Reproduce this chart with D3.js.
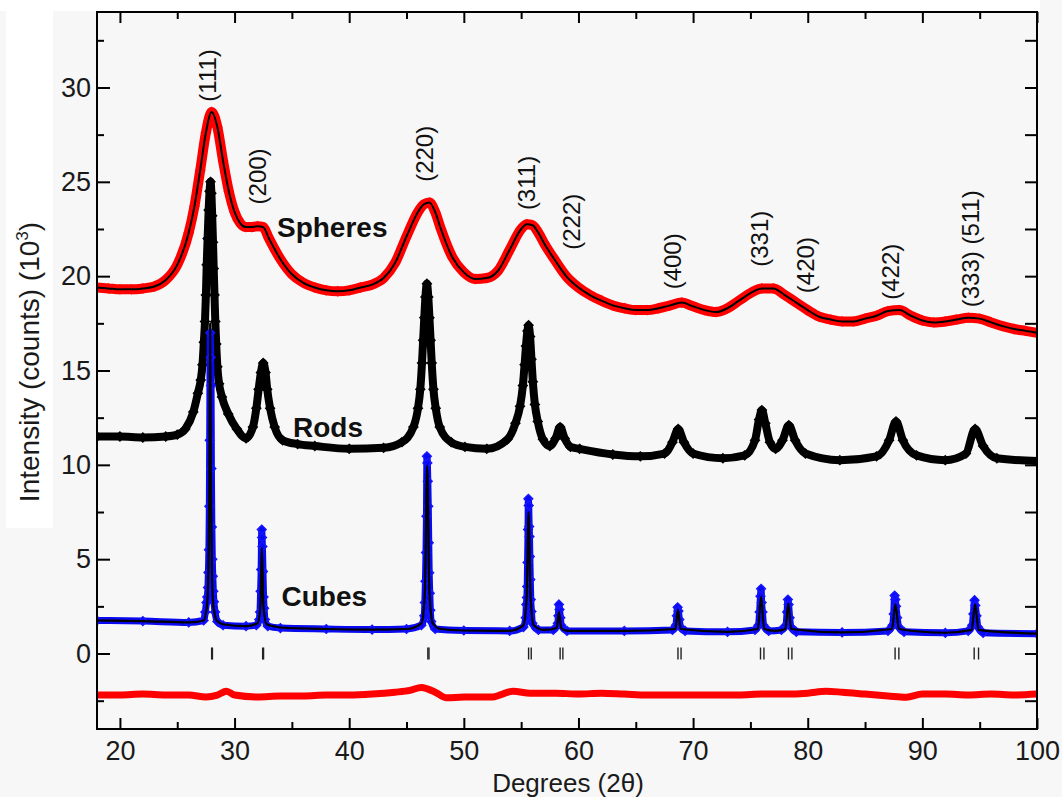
<!DOCTYPE html>
<html>
<head>
<meta charset="utf-8">
<script src="https://cdn.jsdelivr.net/npm/d3@7"></script>
<style>
  html, body { margin: 0; padding: 0; background: #f7f7f7; }
  svg { display: block; font-family: "Liberation Sans", Arial, Helvetica, sans-serif; }
</style>
</head>
<body>
<svg id="chart" width="1062" height="797"></svg>
<script>
// ---- Powder XRD patterns: [2θ (deg), intensity (10^3 counts)] ----

// Spheres: broad reflections (observed and fitted profile)
const spheres = [[18,19.4],[19,19.35],[20,19.3],[21,19.3],[22,19.35],[23,19.45],[24,19.8],[25,20.6],[26,22.3],[26.5,23.7],[27,25.6],[27.5,27.6],[28,28.7],[28.5,27.9],[29,26.1],[29.5,24.5],[30,23.4],[30.5,22.8],[31,22.6],[31.5,22.6],[32,22.65],[32.5,22.6],[33,22.0],[34,20.9],[35,20.1],[36,19.65],[37,19.4],[38,19.25],[39,19.2],[40,19.25],[41,19.4],[42,19.55],[43,19.9],[44,20.7],[45,22.1],[46,23.4],[46.5,23.8],[47,23.9],[47.5,23.4],[48,22.5],[49,21.0],[50,20.2],[51,19.85],[52,19.9],[53,20.3],[54,21.4],[55,22.5],[55.5,22.75],[56,22.7],[56.5,22.3],[57,21.75],[58,20.8],[59,19.95],[60,19.4],[61,19.0],[62,18.7],[63,18.45],[64,18.3],[65,18.2],[66,18.2],[67,18.3],[68,18.45],[69,18.6],[70,18.4],[71,18.2],[72,18.1],[73,18.3],[74,18.7],[75,19.1],[76,19.35],[77,19.35],[78,19.0],[79,18.6],[80,18.2],[81,17.85],[82,17.7],[83,17.6],[84,17.6],[85,17.75],[86,17.9],[87,18.15],[88,18.2],[89,17.9],[90,17.65],[91,17.55],[92,17.6],[93,17.7],[94,17.8],[95,17.75],[96,17.55],[97,17.35],[98,17.2],[99,17.1],[100,17.0]];

// Rods: intermediate peak widths
const rods = [[18,11.5],[20,11.5],[22,11.45],[24,11.5],[25,11.6],[25.7,11.9],[26.4,12.8],[26.8,13.8],[27.05,14.5],[27.2,15.3],[27.32,16.5],[27.42,17.6],[27.5,19.0],[27.57,20.6],[27.65,22.0],[27.74,23.5],[27.82,24.5],[27.9,25.0],[27.98,24.4],[28.05,23.2],[28.12,21.8],[28.18,20.4],[28.25,19.0],[28.32,17.6],[28.4,16.4],[28.5,15.2],[28.65,14.3],[28.9,13.6],[29.45,12.7],[30.2,11.9],[31.0,11.4],[31.6,12.0],[31.9,13.0],[32.1,14.0],[32.3,14.9],[32.5,15.4],[32.7,14.9],[32.85,14.0],[33.1,13.0],[33.5,12.0],[34.2,11.3],[35.5,11.1],[37,11.0],[40,10.85],[43,10.9],[44.6,11.2],[45.6,12.0],[46.0,13.0],[46.2,14.0],[46.35,15.4],[46.45,16.6],[46.55,17.8],[46.65,18.9],[46.78,19.6],[46.9,18.9],[47.0,17.8],[47.1,16.6],[47.2,15.4],[47.35,14.0],[47.55,13.0],[47.9,12.0],[48.9,11.2],[50.1,10.95],[52,10.85],[53.8,11.35],[54.5,12.2],[54.9,13.1],[55.15,14.2],[55.3,15.3],[55.42,16.3],[55.55,17.1],[55.65,17.4],[55.78,16.8],[55.9,15.6],[56.02,14.4],[56.2,13.2],[56.45,12.3],[56.9,11.35],[57.5,11.0],[58.0,11.4],[58.4,12.0],[58.8,11.4],[59.3,10.95],[60.1,10.85],[63,10.55],[65.4,10.45],[67.5,10.6],[68.2,11.2],[68.7,11.9],[69.2,11.2],[70,10.6],[72.6,10.35],[74.5,10.5],[75.4,11.3],[75.75,12.4],[76.0,12.9],[76.3,12.2],[76.7,11.2],[77.2,10.85],[77.8,11.3],[78.35,12.1],[78.9,11.3],[79.8,10.6],[82.8,10.25],[86,10.45],[87.1,11.3],[87.7,12.3],[88.3,11.3],[89.5,10.5],[92,10.25],[93.8,10.6],[94.6,11.9],[95.3,11.0],[96.5,10.35],[100,10.2]];

// Cubes: observed points
const cubesObs = [[18,1.75],[22,1.72],[26,1.65],[27.3,1.75],[27.45,2.2],[27.55,2.7],[27.62,3.0],[27.68,3.5],[27.72,4.3],[27.76,5.5],[27.8,7.8],[27.83,11.3],[27.88,17.0],[27.92,15.7],[27.95,14.2],[27.98,9.8],[28.02,6.7],[28.06,5.0],[28.1,4.1],[28.15,3.3],[28.2,2.75],[28.3,2.2],[28.5,1.7],[29,1.5],[31,1.45],[31.9,1.5],[32.15,1.8],[32.22,2.2],[32.27,3.3],[32.32,4.45],[32.37,6.57],[32.4,6.15],[32.43,5.67],[32.48,4.35],[32.53,3.0],[32.58,2.4],[32.65,1.8],[32.9,1.45],[34,1.35],[38,1.3],[42,1.27],[45,1.3],[46.3,1.5],[46.55,2.0],[46.6,2.7],[46.65,3.83],[46.7,5.35],[46.74,7.28],[46.78,10.45],[46.82,10.1],[46.86,9.13],[46.9,7.8],[46.94,5.87],[46.98,4.28],[47.03,3.2],[47.08,2.3],[47.15,1.7],[47.5,1.3],[50,1.22],[54,1.2],[55.2,1.4],[55.4,1.9],[55.45,2.6],[55.5,2.97],[55.53,3.55],[55.56,4.82],[55.6,6.57],[55.63,8.2],[55.66,7.84],[55.7,6.73],[55.73,6.2],[55.76,5.14],[55.8,3.92],[55.84,2.86],[55.9,2.23],[55.98,1.6],[56.5,1.25],[57.8,1.25],[58.2,1.6],[58.25,2.0],[58.3,2.6],[58.35,2.33],[58.42,1.9],[58.5,1.5],[59,1.2],[64,1.2],[68.2,1.25],[68.5,1.5],[68.58,2.0],[68.65,2.45],[68.72,2.25],[68.8,1.8],[68.9,1.4],[69.3,1.2],[73,1.15],[75.4,1.25],[75.7,1.5],[75.8,2.2],[75.88,3.04],[75.93,3.43],[75.98,2.7],[76.05,2.2],[76.15,1.5],[76.6,1.2],[77.7,1.25],[78.1,1.5],[78.2,2.2],[78.27,2.86],[78.33,2.6],[78.42,1.9],[78.55,1.4],[79,1.15],[83,1.12],[87,1.2],[87.4,1.5],[87.5,2.1],[87.58,3.07],[87.64,2.86],[87.7,2.5],[87.8,1.9],[87.95,1.4],[88.4,1.15],[92,1.1],[94,1.2],[94.35,1.5],[94.45,2.1],[94.55,2.83],[94.62,2.55],[94.72,2.0],[94.85,1.4],[95.3,1.1],[100,1.05]];

// Cubes: calculated (refined) profile
const cubesCalc = [[18,1.75],[22,1.72],[26,1.65],[27.3,1.75],[27.6,2.6],[27.72,4.5],[27.8,9.0],[27.87,17.5],[27.94,9.0],[28.02,4.5],[28.14,2.6],[28.45,1.75],[29,1.55],[31,1.45],[32.0,1.6],[32.25,2.5],[32.38,5.6],[32.52,2.5],[32.8,1.55],[34,1.38],[38,1.3],[42,1.27],[45,1.3],[46.3,1.6],[46.6,3.2],[46.8,9.95],[47.0,3.2],[47.3,1.6],[48,1.3],[50,1.22],[54,1.2],[55.2,1.5],[55.48,3.0],[55.65,7.5],[55.82,3.0],[56.1,1.5],[57,1.25],[58.1,1.35],[58.3,2.2],[58.5,1.35],[59,1.2],[64,1.2],[68.45,1.3],[68.68,2.33],[68.9,1.3],[73,1.15],[75.65,1.3],[75.93,3.0],[76.2,1.3],[77.2,1.2],[78.05,1.3],[78.3,2.65],[78.55,1.3],[83,1.12],[87.35,1.3],[87.65,2.6],[87.95,1.3],[92,1.1],[94.3,1.25],[94.6,2.6],[94.9,1.25],[100,1.05]];

// Difference curve (observed - calculated), offset below zero
const difference = [[18,-2.2],[20,-2.2],[22,-2.15],[24,-2.2],[26,-2.2],[27.5,-2.3],[28.5,-2.2],[29.3,-2.0],[30,-2.2],[32,-2.3],[34,-2.25],[36,-2.25],[38,-2.2],[40,-2.2],[42,-2.15],[44,-2.05],[45.3,-1.95],[46.3,-1.8],[47.5,-2.05],[48.5,-2.35],[50,-2.3],[52.5,-2.3],[54.3,-2.0],[55.8,-2.1],[58,-2.1],[60,-2.15],[62,-2.1],[64,-2.15],[66,-2.2],[68,-2.2],[70,-2.2],[72,-2.2],[74,-2.2],[76,-2.15],[78,-2.15],[80,-2.1],[81.6,-2.0],[83,-2.05],[85,-2.15],[87,-2.25],[88.6,-2.32],[90,-2.15],[92,-2.15],[94,-2.2],[96,-2.15],[98,-2.2],[100,-2.15]];

// Bragg reflection positions (Kα1 / Kα2 pairs)
const braggPositions = [28.0, 28.07, 32.45, 32.53, 46.86, 46.96, 55.65, 55.88, 58.4, 58.64, 68.68, 68.95, 75.88, 76.18, 78.32, 78.62, 87.62, 87.95, 94.52, 94.9];

// Miller-index annotations: text, 2θ of label, intensity at label foot
const hklText = ["(111)", "(200)", "(220)", "(311)", "(222)", "(400)", "(331)", "(420)", "(422)", "(333) (511)"];
const hklPos  = [27.64, 32.04, 46.6, 55.5, 59.4, 68.2, 75.8, 79.8, 87.2, 94.2];
const hklFoot = [29.25, 23.8, 25.0, 23.5, 21.4, 19.3, 20.5, 19.1, 18.75, 18.35];

// Sample names with anchor (2θ, intensity)
const sampleNames = ["Spheres", "Rods", "Cubes"];
const sampleAt = [[33.7, 22.05], [35.1, 11.5], [34.1, 2.5]];

// Axis ticks
const xMajor = [20, 30, 40, 50, 60, 70, 80, 90, 100];
const xMinor = [25, 35, 45, 55, 65, 75, 85, 95];
const yMajor = [0, 5, 10, 15, 20, 25, 30];
const yMinor = [-2.5, 2.5, 7.5, 12.5, 17.5, 22.5, 27.5, 32.5];

// ---- Drawing ----
const svg = d3.select("#chart");
const plot = { left: 97, right: 1037, top: 12, bottom: 729 };

const x = d3.scaleLinear().domain([18, 100]).range([plot.left, plot.right]);
const y = d3.scaleLinear().domain([-4, 34]).range([plot.bottom, plot.top]);

// page background panels
svg.append("rect").attr("x", 0).attr("y", 0).attr("width", 1062).attr("height", 797).attr("fill", "#f7f7f7");
svg.append("rect").attr("x", 0).attr("y", 0).attr("width", 1040).attr("height", 11).attr("fill", "#ffffff");
svg.append("rect").attr("x", 6).attr("y", 8).attr("width", 47).attr("height", 520).attr("fill", "#ffffff");

svg.append("clipPath").attr("id", "plotClip")
  .append("rect").attr("x", plot.left).attr("y", plot.top)
  .attr("width", plot.right - plot.left).attr("height", plot.bottom - plot.top);

const g = svg.append("g").attr("clip-path", "url(#plotClip)");

const smooth = d3.line().x(d => x(d[0])).y(d => y(d[1])).curve(d3.curveMonotoneX);
const diamond = r => `M0,${-r}L${r},0L0,${r}L${-r},0Z`;

function band(data, color, width) {
  g.append("path").datum(data).attr("d", smooth)
    .attr("fill", "none").attr("stroke", color).attr("stroke-width", width)
    .attr("stroke-linejoin", "round").attr("stroke-linecap", "round");
}
function markers(data, color, r, sw) {
  g.append("g").selectAll("path").data(data).join("path")
    .attr("d", diamond(r))
    .attr("transform", d => `translate(${x(d[0])},${y(d[1])})`)
    .attr("fill", "none").attr("stroke", color).attr("stroke-width", sw);
}
function fitLine(data, width) {
  g.append("path").datum(data).attr("d", smooth)
    .attr("fill", "none").attr("stroke", "#000").attr("stroke-width", width)
    .attr("stroke-linejoin", "round");
}

// Spheres
band(spheres, "#ff0000", 10);
markers(spheres, "#ff0000", 4.5, 1.3);
fitLine(spheres, 2);

// Rods
band(rods, "#000", 8);
markers(rods, "#000", 4.5, 1.3);

// Cubes
band(cubesObs, "#0a0af0", 7);
markers(cubesObs, "#1414ff", 4.3, 1.5);
fitLine(cubesCalc, 2.2);

// Difference
band(difference, "#ff0000", 7);

// Bragg ticks
g.append("g").selectAll("line").data(braggPositions).join("line")
  .attr("x1", d => x(d)).attr("x2", d => x(d))
  .attr("y1", y(0) - 6).attr("y2", y(0) + 6)
  .attr("stroke", "#222").attr("stroke-width", 1.4);

// ---- Axes ----
function styleAxis(sel) {
  sel.select(".domain").remove();
  sel.selectAll("line").attr("stroke", "#000").attr("stroke-width", 2);
  sel.selectAll("text").attr("font-size", 27).attr("fill", "#1a1a1a")
    .attr("font-family", '"Liberation Sans", Arial, sans-serif');
}
const fmt = d3.format("d");

svg.append("g").attr("transform", `translate(0,${plot.bottom})`)
  .call(d3.axisBottom(x).tickValues(xMajor).tickFormat(fmt).tickSizeInner(-11).tickSizeOuter(0).tickPadding(12))
  .call(styleAxis);
svg.append("g").attr("transform", `translate(0,${plot.bottom})`)
  .call(d3.axisBottom(x).tickValues(xMinor).tickFormat("").tickSizeInner(-7).tickSizeOuter(0))
  .call(styleAxis);
svg.append("g").attr("transform", `translate(0,${plot.top})`)
  .call(d3.axisTop(x).tickValues(xMajor).tickFormat("").tickSizeInner(-11).tickSizeOuter(0))
  .call(styleAxis);
svg.append("g").attr("transform", `translate(0,${plot.top})`)
  .call(d3.axisTop(x).tickValues(xMinor).tickFormat("").tickSizeInner(-7).tickSizeOuter(0))
  .call(styleAxis);
svg.append("g").attr("transform", `translate(${plot.left},0)`)
  .call(d3.axisLeft(y).tickValues(yMajor).tickFormat(fmt).tickSizeInner(-13).tickSizeOuter(0).tickPadding(6))
  .call(styleAxis);
svg.append("g").attr("transform", `translate(${plot.left},0)`)
  .call(d3.axisLeft(y).tickValues(yMinor).tickFormat("").tickSizeInner(-7).tickSizeOuter(0))
  .call(styleAxis);
svg.append("g").attr("transform", `translate(${plot.right},0)`)
  .call(d3.axisRight(y).tickValues(yMajor.concat(yMinor)).tickFormat("").tickSizeInner(-12).tickSizeOuter(0))
  .call(styleAxis);

// frame
svg.append("rect").attr("x", plot.left).attr("y", plot.top)
  .attr("width", plot.right - plot.left).attr("height", plot.bottom - plot.top)
  .attr("fill", "none").attr("stroke", "#000").attr("stroke-width", 2);

// ---- Annotations ----
svg.append("g").selectAll("text").data(hklText).join("text")
  .attr("transform", (d, i) => `translate(${x(hklPos[i])},${y(hklFoot[i])}) rotate(-90)`)
  .attr("dy", "0.35em").attr("text-anchor", "start")
  .attr("font-size", 24).attr("fill", "#111")
  .text(d => d);

svg.append("g").selectAll("text").data(sampleNames).join("text")
  .attr("x", (d, i) => x(sampleAt[i][0])).attr("y", (d, i) => y(sampleAt[i][1]))
  .attr("font-size", 28).attr("font-weight", "bold").attr("fill", "#111")
  .text(d => d);

// axis titles
svg.append("text").attr("x", 568).attr("y", 792).attr("text-anchor", "middle")
  .attr("font-size", 26).attr("fill", "#1a1a1a").text("Degrees (2θ)");

const yt = svg.append("text").attr("transform", "translate(39,362) rotate(-90)")
  .attr("text-anchor", "middle").attr("font-size", 28).attr("fill", "#1a1a1a");
yt.append("tspan").text("Intensity (counts) (10");
yt.append("tspan").attr("font-size", 17).attr("dy", -11).text("3");
yt.append("tspan").attr("dy", 11).text(")");
</script>
</body>
</html>
